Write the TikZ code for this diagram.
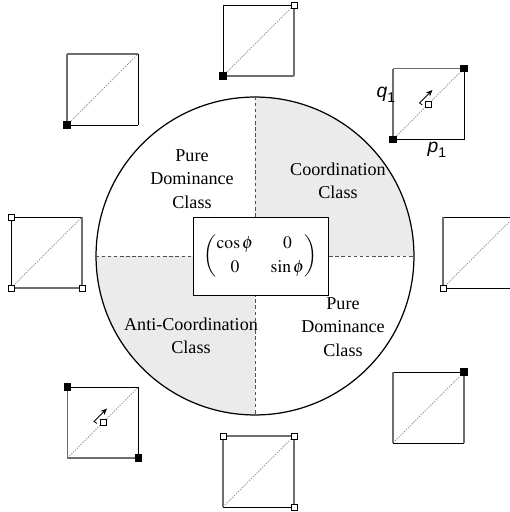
\documentclass[tikz,border=0pt]{standalone}
\usepackage{amsmath}
\usepackage{mathptmx}
\usepackage{fontspec}
\setmainfont{Liberation Serif}
\newfontfamily\axsans{Liberation Sans}
\usetikzlibrary{arrows.meta,calc}
\definecolor{quadShade}{HTML}{EBEBEB}
\definecolor{edgeGray}{HTML}{6E6E6E}
\definecolor{diagGray}{HTML}{9A9A9A}
\definecolor{axisDash}{HTML}{505050}
\tikzset{
  kedge/.style={draw=black, line width=0.55pt},
  gedge/.style={draw=edgeGray, line width=0.9pt},
  diagline/.style={draw=diagGray, line width=0.45pt, dash pattern=on 0.8pt off 0.7pt},
  sinkmark/.style={draw=black, fill=black, minimum size=0.13cm, inner sep=0pt},
  srcmark/.style={draw=black, fill=white, line width=0.5pt, minimum size=0.12cm, inner sep=0pt},
  flowarr/.style={-{Stealth[length=1.3mm,width=1.1mm]}, line width=0.45pt},
  quadtext/.style={align=center, font=\fontsize{10.3}{13.2}\selectfont},
  axlabel/.style={font=\axsans\fontsize{11}{13}\selectfont},
  axdash/.style={draw=axisDash, line width=0.5pt, dash pattern=on 2pt off 1.5pt},
}
% one phase square: name, centre x, centre y, then top/right/bottom/left edge styles
\newcommand{\phbox}[7]{%
  \coordinate (#1) at (#2,#3);
  \coordinate (#1-bl) at ($(#1)+(-35.5,-35.5)$);
  \coordinate (#1-br) at ($(#1)+(35.5,-35.5)$);
  \coordinate (#1-tl) at ($(#1)+(-35.5,35.5)$);
  \coordinate (#1-tr) at ($(#1)+(35.5,35.5)$);
  \draw[diagline] (#1-bl) -- (#1-tr);
  \draw[#4] (#1-tl) -- (#1-tr);
  \draw[#5] (#1-tr) -- (#1-br);
  \draw[#6] (#1-bl) -- (#1-br);
  \draw[#7] (#1-tl) -- (#1-bl);
}
\newcommand{\phflow}[1]{%
  \coordinate (#1-f0) at ($(#1)+(-6,-1)$);
  \coordinate (#1-f1) at ($(#1)+(-9,1)$);
  \coordinate (#1-f2) at ($(#1)+(4,14)$);
  \draw[flowarr] (#1-f0) -- (#1-f1) -- (#1-f2);
}

\begin{document}
\begin{tikzpicture}[x=0.02cm, y=0.02cm]
    \useasboundingbox (0,0) rectangle (510,512);
    \coordinate (ctr) at (255,256);
    \fill[quadShade] (ctr) -- ++(159,0) arc[start angle=0, end angle=90, radius=159] -- cycle;
    \fill[quadShade] (ctr) -- ++(-159,0) arc[start angle=180, end angle=270, radius=159] -- cycle;
    \node[circle, draw, line width=0.7pt, minimum size=6.36cm, inner sep=0pt] (disc) at (ctr) {};
    \draw[axdash] (disc.north) -- (disc.south);
    \draw[axdash] (disc.west) -- (disc.east);
    \node[draw, fill=white, line width=0.5pt, minimum width=2.7cm, minimum height=1.56cm,
          font=\fontsize{10}{12.5}\selectfont] (payoff) at (260.5,256)
          {$\begin{pmatrix}\cos\phi & 0\\[1.5pt] 0 & \sin\phi\end{pmatrix}$};
    \node[quadtext] (pdTop) at (192,333) {Pure\\Dominance\\Class};
    \node[quadtext] (coord) at (338,331) {Coordination\\Class};
    \node[quadtext] (anti) at (191,176) {Anti-Coordination\\Class};
    \node[quadtext] (pdBot) at (343,185) {Pure\\Dominance\\Class};

    \phbox{sqT}{258.5}{471.5}{kedge}{gedge}{gedge}{kedge}
    \node[sinkmark] (sqT-m1) at (sqT-bl) {};
    \node[srcmark] (sqT-m2) at (sqT-tr) {};

    \phbox{sqTR}{428.5}{408}{gedge}{kedge}{kedge}{gedge}
    \node[sinkmark] (sqTR-m1) at (sqTR-bl) {};
    \node[sinkmark] (sqTR-m2) at (sqTR-tr) {};
    \phflow{sqTR}
    \node[srcmark] (sqTR-m3) at (sqTR) {};
    \node[axlabel] (qlab) at (386,417) {\textit{q}\raisebox{-0.45ex}{\fontsize{8}{9}\selectfont 1}};
    \node[axlabel] (plab) at (437,362) {\textit{p}\raisebox{-0.45ex}{\fontsize{8}{9}\selectfont 1}};

    \phbox{sqR}{478.5}{259.5}{kedge}{kedge}{kedge}{gedge}
    \node[srcmark] (sqR-m1) at (sqR-bl) {};

    \phbox{sqBR}{428.5}{104.5}{kedge}{gedge}{kedge}{gedge}
    \node[sinkmark] (sqBR-m1) at (sqBR-tr) {};

    \phbox{sqB}{258.5}{40.5}{gedge}{gedge}{kedge}{gedge}
    \node[srcmark] (sqB-m1) at (sqB-tl) {};
    \node[srcmark] (sqB-m2) at (sqB-tr) {};
    \node[srcmark] (sqB-m3) at (sqB-br) {};

    \phbox{sqBL}{103}{89.5}{kedge}{kedge}{gedge}{gedge}
    \node[sinkmark] (sqBL-m1) at (sqBL-tl) {};
    \node[sinkmark] (sqBL-m2) at (sqBL-br) {};
    \phflow{sqBL}
    \node[srcmark] (sqBL-m3) at (sqBL) {};

    \phbox{sqL}{46.5}{259.5}{kedge}{gedge}{gedge}{kedge}
    \node[srcmark] (sqL-m1) at (sqL-tl) {};
    \node[srcmark] (sqL-m2) at (sqL-bl) {};
    \node[srcmark] (sqL-m3) at (sqL-br) {};

    \phbox{sqTL}{102.5}{422.5}{gedge}{kedge}{kedge}{gedge}
    \node[sinkmark] (sqTL-m1) at (sqTL-bl) {};
  \end{tikzpicture}
\end{document}
